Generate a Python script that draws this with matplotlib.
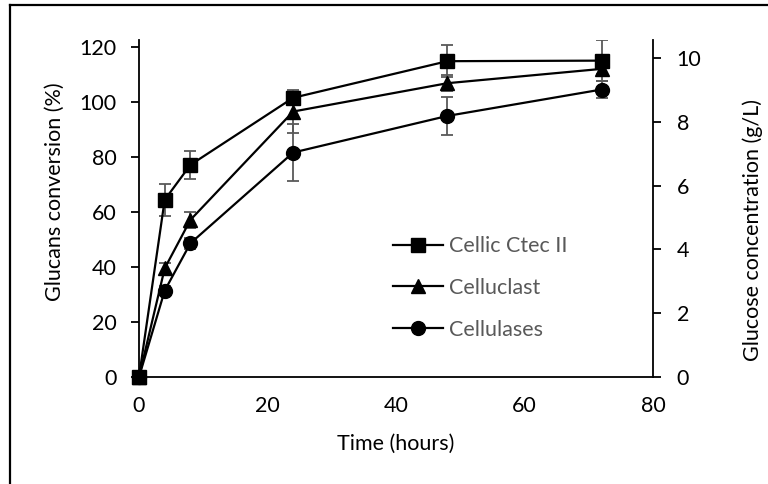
import numpy as np
import matplotlib
matplotlib.use("Agg")
import matplotlib.pyplot as plt
from matplotlib.lines import Line2D

plt.rcParams['font.family'] = ['Lato', 'DejaVu Sans']
plt.rcParams['font.size'] = 15.5

# hydrolysis time course, three enzyme preparations
hours = [0, 4, 8, 24, 48, 72]
ctec = [0, 64.4, 77.1, 101.5, 114.8, 115.0]
ctec_err = [0, 5.8, 5.2, 2.0, 5.8, 7.5]
celluclast = [0, 39.5, 57.1, 96.5, 106.8, 112.0]
celluclast_err = [0, 2.0, 3.0, 7.9, 3.0, 2.0]
cellulases = [0, 31.4, 48.6, 81.6, 94.9, 104.5]
cellulases_err = [0, 1.5, 2.0, 10.2, 7.0, 3.0]

series = [
    ("Cellic Ctec II", ctec, ctec_err, "s", 10),
    ("Celluclast", celluclast, celluclast_err, "^", 10),
    ("Cellulases", cellulases, cellulases_err, "o", 10),
]

fig = plt.figure(figsize=(7.68, 4.84), dpi=100)
ax = fig.add_axes([139 / 768, 1 - 377 / 484, 514 / 768, 337 / 484])

for name, vals, err, mk, ms in series:
    ax.errorbar(hours, vals, yerr=err, fmt='none', ecolor='#595959',
                elinewidth=1.3, capsize=4.3, capthick=1.3, zorder=2)
    ax.plot(hours, vals, color='black', lw=1.6, marker=mk, ms=ms,
            label=name, zorder=3, clip_on=False)

ax.set_xlim(0, 80)
ax.set_ylim(0, 122.5)
ax.set_xticks([0, 20, 40, 60, 80])
ax.set_yticks(np.arange(0, 121, 20))
ax.set_xlabel("Time (hours)", va='center')
ax.set_ylabel("Glucans conversion (%)", va='center')
ax.xaxis.set_label_coords(0.5, (377 - 444) / 337)
ax.yaxis.set_label_coords((55 - 139) / 514, (377 - 192) / 337)

for side in ['top', 'right']:
    ax.spines[side].set_visible(False)
ax.spines['left'].set_linewidth(1.3)
ax.spines['bottom'].set_linewidth(1.3)
ax.tick_params(axis='x', length=0, pad=14)
ax.tick_params(axis='y', direction='out', length=6, width=1.3, pad=10)

# glucose scale on the right
ax2 = ax.twinx()
ax2.set_ylim(0, 10.56)
ax2.set_yticks(np.arange(0, 11, 2))
for side in ['top', 'left', 'bottom']:
    ax2.spines[side].set_visible(False)
ax2.spines['right'].set_linewidth(1.3)
ax2.tick_params(axis='y', direction='out', length=6, width=1.3, pad=11)
ax2.set_ylabel("Glucose concentration (g/L)", va='center')
ax2.yaxis.set_label_coords((753 - 139) / 514, (377 - 230) / 337)

leg = ax.legend(loc='center left', bbox_to_anchor=(393 / 768, 1 - 288 / 484),
                bbox_transform=fig.transFigure, frameon=False,
                handlelength=2.3, handletextpad=0.3, labelspacing=1.0,
                borderpad=0, borderaxespad=0)
for t in leg.get_texts():
    t.set_color('#595959')

# chart border
fig.add_artist(Line2D([10 / 768, 10 / 768], [0, 1 - 5 / 484], color='black', lw=1.6))
fig.add_artist(Line2D([10 / 768, 1], [1 - 5 / 484, 1 - 5 / 484], color='black', lw=1.6))

fig.savefig("out.png", dpi=100)
